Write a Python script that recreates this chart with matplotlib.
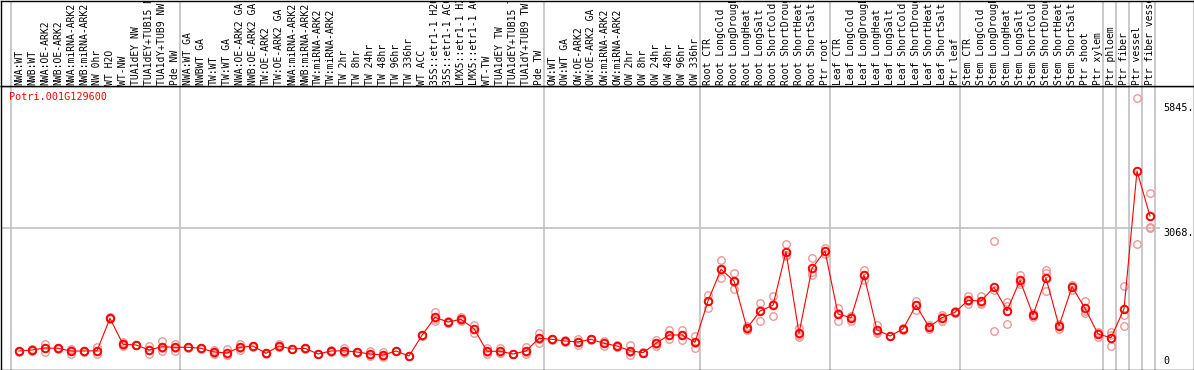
import matplotlib
matplotlib.use('Agg')
import matplotlib.pyplot as plt
import numpy as np

gene = 'Potri.001G129600'

# sample names (columns), left to right
labels = ['NWA:WT', 'NWB:WT', 'NWA:OE-ARK2', 'NWB:OE-ARK2', 'NWA:miRNA-ARK2',
          'NWB:miRNA-ARK2', 'NW 0hr', 'WT H2O', 'WT-NW', 'TUA1dEY NW',
          'TUA1dEY+TUB15 NW', 'TUA1dY+TUB9 NW', 'Pde NW',
          'NWA:WT GA', 'NWBWT GA', 'TW:WT', 'TW:WT GA', 'NWA:OE-ARK2 GA',
          'NWB:OE-ARK2 GA', 'TW:OE-ARK2', 'TW:OE-ARK2 GA', 'NWA:miRNA-ARK2',
          'NWB:miRNA-ARK2', 'TW:miRNA-ARK2', 'TW:miRNA-ARK2', 'TW 2hr', 'TW 8hr',
          'TW 24hr', 'TW 48hr', 'TW 96hr', 'TW 336hr', 'WT ACC',
          '35S::etr1-1 H2O', '35S::etr1-1 ACC', 'LMX5::etr1-1 H2O',
          'LMX5::etr1-1 ACC', 'WT-TW', 'TUA1dEY TW', 'TUA1dEY+TUB15 TW',
          'TUA1dY+TUB9 TW', 'Pde TW',
          'OW:WT', 'OW:WT GA', 'OW:OE-ARK2', 'OW:OE-ARK2 GA', 'OW:miRNA-ARK2',
          'OW:miRNA-ARK2', 'OW 2hr', 'OW 8hr', 'OW 24hr', 'OW 48hr', 'OW 96hr',
          'OW 336hr',
          'Root CTR', 'Root LongCold', 'Root LongDrought', 'Root LongHeat',
          'Root LongSalt', 'Root ShortCold', 'Root ShortDrought',
          'Root ShortHeat', 'Root ShortSalt', 'Ptr root',
          'Leaf CTR', 'Leaf LongCold', 'Leaf LongDrought', 'Leaf LongHeat',
          'Leaf LongSalt', 'Leaf ShortCold', 'Leaf ShortDrought',
          'Leaf ShortHeat', 'Leaf ShortSalt', 'Ptr leaf',
          'Stem CTR', 'Stem LongCold', 'Stem LongDrought', 'Stem LongHeat',
          'Stem LongSalt', 'Stem ShortCold', 'Stem ShortDrought',
          'Stem ShortHeat', 'Stem ShortSalt', 'Ptr shoot', 'Ptr xylem',
          'Ptr phloem', 'Ptr fiber', 'Ptr vessel', 'Ptr fiber vessel']

# mean expression per sample
means = [333, 356, 400, 393, 333, 333, 340, 1060, 482, 467,
         356, 429, 416, 416, 393, 311, 289, 416, 444, 282,
         444, 378, 393, 267, 333, 340, 311, 267, 244, 333,
         222, 682, 1082, 978, 1038, 829, 327, 327, 267, 333,
         616, 593, 556, 533, 593, 504, 444, 340, 296, 504,
         689, 689, 527, 1444, 2149, 1889, 838, 1222, 1349, 2540,
         727, 2171, 2556, 1156, 1073, 2022, 800, 667, 822, 1349,
         867, 1073, 1193, 1460, 1444, 1749, 1229, 1904, 1133, 1956,
         889, 1762, 1282, 711, 629, 1267, 4333, 3333]

# individual replicates per sample
reps = [[320, 340, 340], [340, 360, 370], [489, 311, 400], [380, 400, 400],
        [378, 267, 355], [320, 340, 340], [422, 267, 330], [1040, 1060, 1080],
        [540, 450, 456], [460, 470, 470], [444, 267, 356], [556, 340, 390],
        [500, 340, 408], [410, 420, 418], [380, 400, 400], [300, 267, 366],
        [378, 240, 250], [500, 400, 350], [430, 450, 452], [270, 290, 286],
        [500, 420, 412], [370, 380, 384], [400, 380, 400], [260, 270, 271],
        [333, 320, 346], [400, 320, 300], [311, 300, 322], [333, 240, 228],
        [311, 200, 221], [333, 330, 336], [222, 215, 228], [660, 700, 686],
        [1207, 1040, 1000], [1000, 960, 974], [1100, 990, 1024], [918, 740, 829],
        [411, 260, 310], [400, 300, 281], [267, 260, 274], [422, 260, 317],
        [744, 511, 593], [593, 580, 606], [556, 540, 572], [533, 470, 596],
        [600, 580, 600], [504, 450, 558], [444, 430, 458], [460, 240, 320],
        [296, 280, 312], [580, 480, 452], [789, 600, 678], [800, 578, 689],
        [667, 400, 514], [1578, 1300, 1454], [2349, 1956, 2142], [2074, 1718, 1875],
        [820, 810, 884], [1400, 1011, 1255], [1556, 1116, 1375], [2711, 2467, 2442],
        [849, 640, 692], [2393, 2022, 2098], [2622, 2500, 2546], [1278, 1011, 1179],
        [1100, 1000, 1119], [2133, 1911, 2022], [911, 760, 729], [670, 660, 671],
        [840, 800, 826], [1451, 1240, 1356], [860, 830, 911], [1130, 1000, 1089],
        [1220, 1180, 1179], [1556, 1378, 1446], [1550, 1380, 1402], [2771, 778, 1698],
        [1429, 929, 1329], [2022, 1822, 1868], [1100, 1167, 1132], [2133, 1674, 2061],
        [940, 830, 897], [1800, 1700, 1786], [1451, 1170, 1225], [640, 750, 743],
        [747, 444, 696], [1778, 1133, 889], [5949, 2711], [3838, 3060, 3100]]

# first column of each sample group (gray separators)
group_starts = [0, 13, 41, 53, 63, 73, 84, 85, 86, 87, 88]

ytick_vals = [0, 3068, 5845]
ytick_text = ['0', '3068.', '5845.']

W, H = 1194, 370
fig = plt.figure(figsize=(W / 100, H / 100), dpi=100)


def px_axes(left, top, right, bottom):
    return fig.add_axes([left / W, 1 - bottom / H, (right - left) / W, (bottom - top) / H])


ax = px_axes(0.5, 85.5, 1193.5, 369.5)
lab = px_axes(0.5, 0.5, 1193.5, 85.5)

# column i sits at pixel 19 + 13*i, value 0 at pixel row 366, 0.045 px per unit
xlim = ((0.5 - 19) / 13, (1193.5 - 19) / 13)
ax.set_xlim(xlim)
ax.set_ylim((366 - 369.5) / 0.045, (366 - 85.5) / 0.045)
lab.set_xlim(xlim)
lab.set_ylim(0, 1)

mono = 'DejaVu Sans Mono'
fs = 7.25
grey = '#c0c0c0'

for a in (ax, lab):
    a.set_xticks([])
    a.set_yticks([])
    for s in a.spines.values():
        s.set_color('black')
        s.set_linewidth(1.0)
    for g in group_starts:
        a.axvline(g - 0.62, color=grey, lw=1.2, zorder=0)

ax.hlines(ytick_vals[1], xlim[0], 87.8, color=grey, lw=1.2, zorder=0)

x = np.arange(len(labels))
for i, r in enumerate(reps):
    ax.plot([i] * len(r), r, 'o', mfc='none', mec='#ee9797', ms=5.4, mew=1.0, zorder=2)
ax.plot(x, means, '-', color='red', lw=0.8, zorder=3)
ax.plot(x, means, 'o', mfc='none', mec='red', ms=5.4, mew=1.4, zorder=4)

for v, t in zip(ytick_vals, ytick_text):
    ax.text(88, v, t, ha='left', va='bottom' if v == 0 else 'top',
            family=mono, fontsize=fs, color='black')

for i, name in enumerate(labels):
    lab.text(i, 0.01, name, rotation=90, ha='center', va='bottom',
             family=mono, fontsize=7.05, clip_on=True)

fig.text(9 / W, 1 - 97 / H, gene, color='red', family=mono, fontsize=fs,
         ha='left', va='center')

fig.savefig('out.png', dpi=100)
